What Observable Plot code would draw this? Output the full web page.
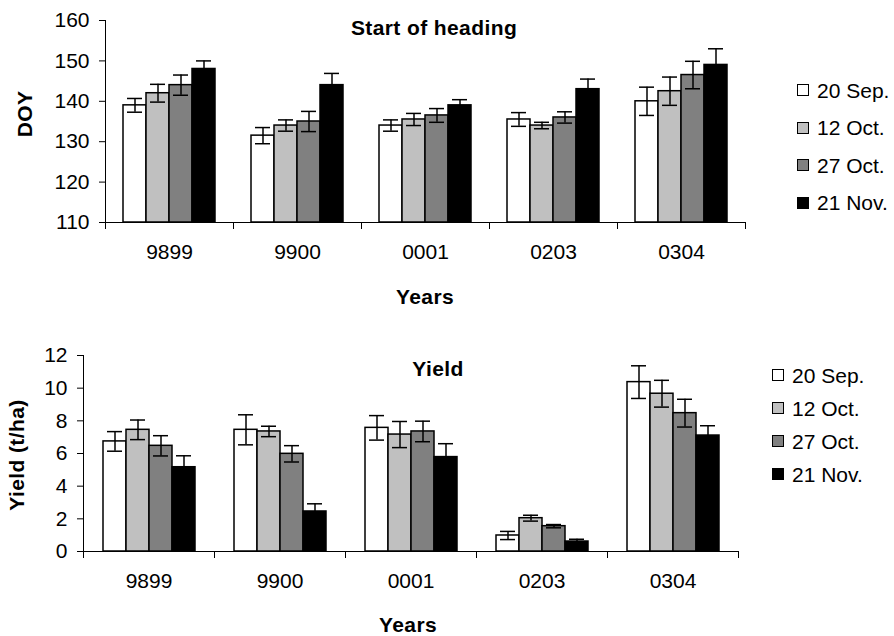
<!DOCTYPE html>
<html><head><meta charset="utf-8">
<script src="https://cdn.jsdelivr.net/npm/d3@7"></script>
<script src="https://cdn.jsdelivr.net/npm/@observablehq/plot@0.6"></script>
<style>
body{margin:0;background:#fff;font-family:"Liberation Sans",Arial,sans-serif;color:#000;}
#wrap{position:relative;width:894px;height:636px;overflow:hidden;}
.abs{position:absolute;white-space:nowrap;}
.c{transform:translate(-50%,-50%);}
.b{font-weight:bold;letter-spacing:0.4px;}
.rot{transform:translate(-50%,-50%) rotate(-90deg);}
.leg{position:absolute;font-size:21px;line-height:21px;}
.leg div{display:flex;align-items:center;}
.sw{width:10px;height:10px;border:1.5px solid #000;margin-right:8px;}
svg{position:absolute;left:0;}
</style></head><body><div id="wrap"></div>
<script>
const years = ["9899","9900","0001","0203","0304"];
const dates = ["20 Sep.","12 Oct.","27 Oct.","21 Nov."];
const fills = ["#ffffff","#c0c0c0","#808080","#000000"];
const headingMean = [[139,142,144,148],[131.5,134,135,144],[134,135.5,136.5,139],[135.5,134,136,143],[140,142.5,146.5,149]];
const headingErr = [[1.7,2.2,2.5,2],[2,1.4,2.5,2.9],[1.4,1.5,1.7,1.4],[1.7,0.8,1.4,2.5],[3.5,3.5,3.4,4]];
const yieldMean = [[6.74,7.45,6.47,5.16],[7.45,7.35,5.98,2.45],[7.57,7.16,7.35,5.78],[0.98,2.04,1.55,0.61],[10.37,9.66,8.47,7.1]];
const yieldErr = [[0.6,0.6,0.62,0.7],[0.92,0.32,0.5,0.47],[0.75,0.8,0.63,0.82],[0.25,0.18,0.1,0.14],[1.0,0.82,0.85,0.6]];
const headingTicks = [110,120,130,140,150,160];
const yieldTicks = [0,2,4,6,8,10,12];

function chart({means, errs, ticks, height, mt, mb, ml, mr}) {
  const rows = [];
  years.forEach((yr,i)=>dates.forEach((dt,j)=>rows.push({year:yr,date:dt,v:means[i][j],e:errs[i][j]})));
  const fh = height - mt - mb;
  const y0 = ticks[0];
  return Plot.plot({
    width: 894, height, marginTop: mt, marginBottom: mb, marginLeft: ml, marginRight: mr,
    style: {fontFamily: "Liberation Sans, Arial, sans-serif", fontSize: "21px", color: "#000", background: "transparent", overflow: "visible"},
    fx: {domain: years, padding: 0, label: null, axis: null},
    x: {domain: dates, paddingInner: 0, paddingOuter: 0.745, axis: null},
    y: {domain: [y0, ticks[ticks.length-1]], label: null, axis: null},
    color: {domain: dates, range: fills},
    marks: [
      Plot.barY(rows, {fx:"year", x:"date", y1: y0, y2:"v", fill:"date", stroke:"#000", strokeWidth:1.5}),
      Plot.ruleX(rows, {fx:"year", x:"date", y1: d=>d.v-d.e, y2: d=>d.v+d.e, stroke:"#000", strokeWidth:1.5}),
      Plot.tickY(rows, {fx:"year", x:"date", y: d=>d.v+d.e, inset:4, stroke:"#000", strokeWidth:1.5}),
      Plot.tickY(rows, {fx:"year", x:"date", y: d=>d.v-d.e, inset:4, stroke:"#000", strokeWidth:1.5}),
      Plot.ruleY([y0], {stroke:"#000", strokeWidth:1}),
      Plot.frame({anchor:"left", insetTop: fh, insetBottom: -6, stroke:"#000"}),
      Plot.frame({anchor:"right", insetTop: fh, insetBottom: -6, stroke:"#000", facetAnchor:"right"}),
      Plot.frame({anchor:"left", stroke:"#000", facetAnchor:"left"}),
      Plot.axisY({ticks, tickSize:6, tickPadding:10, label:null}),
      Plot.axisFx({anchor:"bottom", tickSize:0, tickPadding:22, label:null})
    ]
  });
}

const wrap = document.getElementById("wrap");
const top1 = chart({means: headingMean, errs: headingErr, ticks: headingTicks, height: 320, mt: 20, mb: 98, ml: 103, mr: 147});
top1.style.top = "0px";
wrap.appendChild(top1);
const bot = chart({means: yieldMean, errs: yieldErr, ticks: yieldTicks, height: 316, mt: 35, mb: 85, ml: 83, mr: 156});
bot.style.top = "320px";
wrap.appendChild(bot);

function label(text, x, y, cls, size) {
  const d = document.createElement("div");
  d.className = "abs " + cls;
  d.style.left = x + "px"; d.style.top = y + "px"; d.style.fontSize = size + "px";
  d.textContent = text;
  wrap.appendChild(d);
}
label("Start of heading", 434, 28, "c b", 21);
label("Yield", 438, 369, "c b", 21);
label("DOY", 25, 114, "rot b", 21);
label("Yield (t/ha)", 17, 455, "rot b", 21);
label("Years", 425, 297, "c b", 21);
label("Years", 408, 625, "c b", 21);

function legend(x, y, gap) {
  const L = document.createElement("div");
  L.className = "leg";
  L.style.left = x + "px"; L.style.top = y + "px";
  dates.forEach((dt,i)=>{
    const r = document.createElement("div");
    r.style.height = gap + "px";
    const s = document.createElement("span"); s.className = "sw"; s.style.background = fills[i];
    const t = document.createElement("span"); t.textContent = dt;
    r.appendChild(s); r.appendChild(t); L.appendChild(r);
  });
  wrap.appendChild(L);
}
legend(797, 90 - 18.75, 37.5);
legend(772, 375 - 16.5, 33);
</script></body></html>
